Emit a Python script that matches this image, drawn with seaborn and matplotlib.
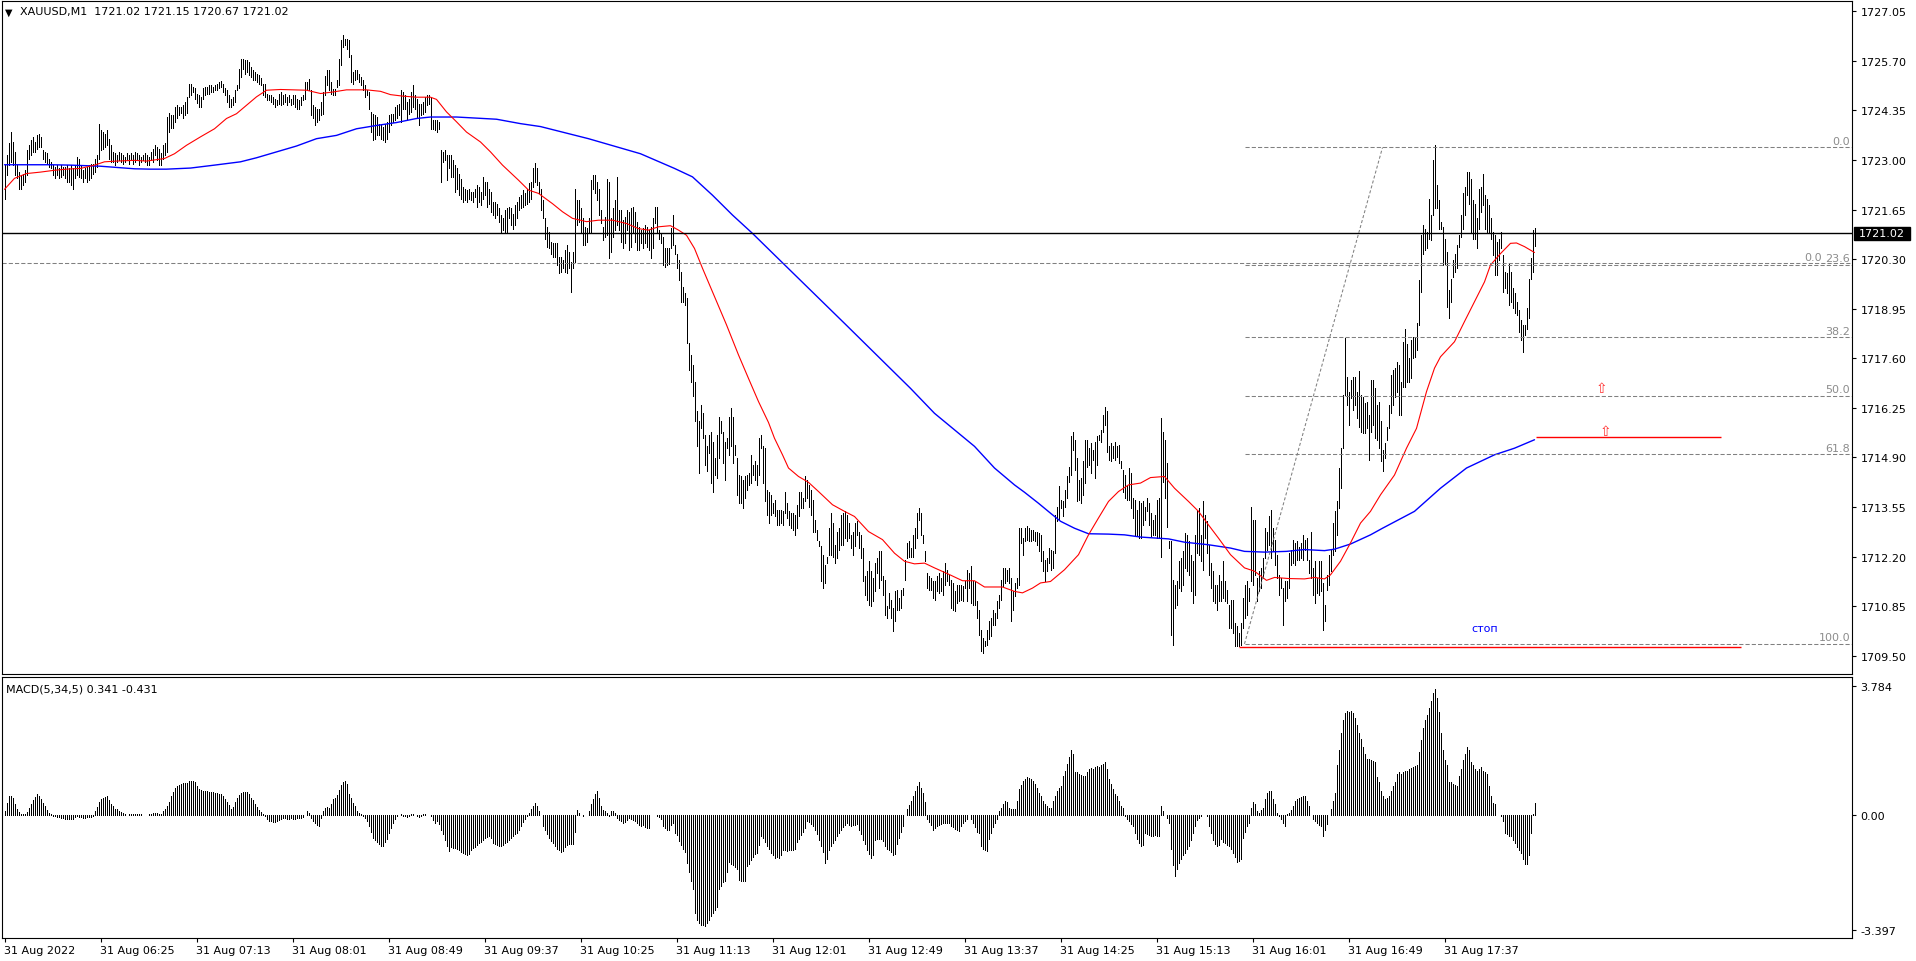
import numpy as np
import pandas as pd
import matplotlib
matplotlib.use("Agg")
import matplotlib.pyplot as plt
import seaborn as sns

# ---- data (XAUUSD M1, one bar per minute from 05:37) ----
highs = [
    1722.86, 1723.13, 1723.45, 1723.77, 1723.49, 1723.22, 1722.86, 1722.68, 1722.59, 1722.63,
    1722.72, 1723.27, 1723.40, 1723.54, 1723.63, 1723.49, 1723.67, 1723.72, 1723.63, 1723.27,
    1723.22, 1723.18, 1723.04, 1722.95, 1722.86, 1722.81, 1722.86, 1722.77, 1722.86, 1722.81,
    1722.81, 1722.86, 1722.77, 1722.86, 1722.77, 1722.86, 1723.09, 1723.04, 1722.86, 1722.72,
    1722.77, 1722.81, 1722.86, 1722.90, 1722.90, 1723.04, 1723.13, 1723.99, 1723.81, 1723.77,
    1723.72, 1723.81, 1723.58, 1723.40, 1723.22, 1723.18, 1723.13, 1723.22, 1723.18, 1723.13,
    1723.09, 1723.18, 1723.13, 1723.18, 1723.13, 1723.22, 1723.18, 1723.13, 1723.09, 1723.13,
    1723.18, 1723.13, 1723.09, 1723.22, 1723.31, 1723.40, 1723.36, 1723.31, 1723.18, 1723.40,
    1723.45, 1724.17, 1724.27, 1724.22, 1724.22, 1724.45, 1724.49, 1724.45, 1724.45, 1724.49,
    1724.58, 1724.72, 1725.08, 1725.08, 1724.99, 1724.95, 1724.81, 1724.76, 1724.72, 1724.95,
    1724.99, 1724.99, 1725.04, 1725.04, 1724.99, 1725.04, 1725.08, 1725.13, 1725.15, 1725.08,
    1724.95, 1724.90, 1724.76, 1724.67, 1724.72, 1724.90, 1725.04, 1725.49, 1725.76, 1725.76,
    1725.72, 1725.72, 1725.67, 1725.53, 1725.44, 1725.40, 1725.35, 1725.31, 1725.22, 1725.08,
    1725.08, 1724.81, 1724.76, 1724.76, 1724.71, 1724.67, 1724.62, 1724.81, 1724.85, 1724.76,
    1724.81, 1724.71, 1724.76, 1724.67, 1724.76, 1724.76, 1724.67, 1724.62, 1724.71, 1724.76,
    1725.12, 1725.12, 1725.21, 1724.90, 1724.49, 1724.44, 1724.40, 1724.40, 1724.58, 1724.85,
    1725.30, 1725.44, 1725.44, 1725.12, 1724.94, 1724.94, 1725.17, 1725.76, 1726.26, 1726.41,
    1726.30, 1726.30, 1726.26, 1725.85, 1725.40, 1725.44, 1725.44, 1725.35, 1725.26, 1725.17,
    1725.03, 1724.90, 1724.85, 1724.31, 1724.26, 1724.22, 1724.17, 1723.99, 1723.94, 1723.90,
    1723.99, 1724.04, 1724.22, 1724.26, 1724.26, 1724.44, 1724.49, 1724.53, 1724.90, 1724.85,
    1724.76, 1724.58, 1724.67, 1724.85, 1725.03, 1724.76, 1724.67, 1724.53, 1724.53, 1724.58,
    1724.71, 1724.76, 1724.76, 1724.71, 1724.08, 1724.08, 1724.08, 1724.04, 1723.26, 1723.22,
    1723.26, 1723.13, 1723.13, 1723.13, 1722.99, 1722.86, 1722.77, 1722.63, 1722.49, 1722.27,
    1722.22, 1722.18, 1722.22, 1722.13, 1722.13, 1722.22, 1722.31, 1722.27, 1722.13, 1722.54,
    1722.40, 1722.40, 1722.22, 1722.13, 1721.86, 1721.86, 1721.81, 1721.68, 1721.50, 1721.41,
    1721.63, 1721.68, 1721.72, 1721.68, 1721.54, 1721.77, 1721.86, 1722.00, 1722.04, 1722.18,
    1722.09, 1722.22, 1722.36, 1722.40, 1722.77, 1722.93, 1722.77, 1722.40, 1722.22, 1721.91,
    1721.41, 1721.18, 1721.04, 1720.77, 1720.73, 1720.73, 1720.73, 1720.36, 1720.36, 1720.27,
    1720.54, 1720.68, 1720.50, 1720.23, 1720.50, 1722.22, 1721.91, 1721.91, 1721.68, 1721.41,
    1721.18, 1721.14, 1721.41, 1722.45, 1722.58, 1722.58, 1722.40, 1722.22, 1721.63, 1721.18,
    1721.45, 1722.49, 1722.40, 1721.41, 1721.68, 1721.91, 1722.54, 1721.63, 1721.63, 1721.36,
    1721.45, 1721.63, 1721.59, 1721.68, 1721.72, 1721.59, 1721.32, 1721.18, 1721.09, 1721.14,
    1721.23, 1721.18, 1721.09, 1721.18, 1721.41, 1721.72, 1721.72, 1721.09, 1721.00, 1720.91,
    1720.59, 1720.59, 1720.59, 1721.14, 1721.50, 1720.68, 1720.45, 1720.27, 1719.96, 1719.55,
    1719.37, 1719.23, 1718.01, 1717.69, 1717.42, 1716.96, 1716.15, 1715.88, 1716.33, 1716.10,
    1715.51, 1715.20, 1715.51, 1715.60, 1715.33, 1714.88, 1715.51, 1716.01, 1715.88, 1715.60,
    1715.33, 1715.42, 1716.01, 1716.24, 1716.01, 1715.24, 1714.88, 1714.42, 1714.38, 1714.29,
    1714.38, 1714.42, 1714.47, 1714.97, 1714.70, 1714.79, 1714.70, 1715.42, 1715.51, 1715.20,
    1715.15, 1714.02, 1713.97, 1713.88, 1713.65, 1713.74, 1713.47, 1713.47, 1713.47, 1713.43,
    1713.97, 1713.65, 1713.43, 1713.38, 1713.38, 1713.34, 1713.61, 1713.97, 1713.97, 1713.79,
    1714.38, 1714.29, 1714.15, 1714.02, 1713.74, 1713.20, 1712.93, 1712.61, 1712.48, 1712.25,
    1711.98, 1712.20, 1712.97, 1713.38, 1713.11, 1712.52, 1712.88, 1712.97, 1713.34, 1713.38,
    1713.43, 1713.34, 1713.11, 1712.79, 1712.88, 1713.11, 1713.16, 1712.88, 1712.79, 1712.43,
    1711.66, 1711.80, 1712.07, 1711.80, 1711.61, 1712.02, 1712.16, 1712.34, 1712.34, 1711.66,
    1711.57, 1710.84, 1711.21, 1711.02, 1710.80, 1711.25, 1711.30, 1711.07, 1711.30, 1711.34,
    1712.11, 1712.57, 1712.61, 1712.43, 1712.79, 1712.97, 1713.38, 1713.52, 1713.38, 1712.79,
    1712.34, 1711.75, 1711.66, 1711.61, 1711.52, 1711.52, 1711.66, 1711.75, 1711.61, 1711.80,
    1712.02, 1711.84, 1711.71, 1711.57, 1711.48, 1711.25, 1711.43, 1711.43, 1711.43, 1711.39,
    1711.52, 1711.84, 1711.75, 1711.93, 1711.52, 1711.52, 1710.98, 1710.75, 1710.21, 1709.98,
    1709.89, 1710.21, 1710.43, 1710.53, 1710.75, 1710.66, 1710.98, 1711.16, 1711.57, 1711.89,
    1711.89, 1711.84, 1711.89, 1711.61, 1711.25, 1711.48, 1711.61, 1712.97, 1712.97, 1712.70,
    1712.97, 1713.02, 1712.97, 1712.93, 1712.93, 1712.88, 1712.88, 1712.84, 1712.79, 1712.34,
    1712.11, 1712.16, 1712.43, 1712.38, 1712.34, 1713.34, 1713.56, 1714.11, 1713.74, 1713.70,
    1714.02, 1714.38, 1714.65, 1715.47, 1715.60, 1715.38, 1714.88, 1714.29, 1714.33, 1714.79,
    1715.38, 1715.38, 1715.15, 1715.29, 1715.10, 1715.33, 1715.47, 1715.51, 1715.65, 1716.06,
    1716.28, 1716.15, 1715.20, 1715.29, 1715.20, 1715.33, 1715.20, 1715.24, 1714.79, 1714.56,
    1714.43, 1714.11, 1714.61, 1714.47, 1713.79, 1713.74, 1713.47, 1713.70, 1713.65, 1713.70,
    1713.56, 1713.79, 1713.65, 1713.38, 1713.20, 1713.34, 1713.74, 1713.79, 1715.97, 1715.60,
    1715.38, 1714.74, 1712.61, 1712.61, 1711.57, 1711.43, 1711.52, 1712.07, 1712.16, 1712.34,
    1712.84, 1712.79, 1712.61, 1712.25, 1712.07, 1712.79, 1713.47, 1713.52, 1712.79, 1713.70,
    1713.34, 1713.16, 1712.52, 1712.02, 1711.80, 1711.43, 1711.43, 1711.71, 1711.52, 1712.07,
    1711.52, 1711.30, 1710.89, 1711.02, 1711.02, 1710.39, 1710.30, 1710.12, 1710.39, 1711.07,
    1711.43, 1711.52, 1711.34, 1713.56, 1713.20, 1713.20, 1711.61, 1711.80, 1711.89, 1712.16,
    1712.97, 1712.88, 1713.29, 1713.47, 1712.97, 1712.66, 1712.25, 1711.71, 1711.61, 1711.34,
    1711.52, 1711.52, 1712.29, 1712.38, 1712.66, 1712.57, 1712.61, 1712.47, 1712.57, 1712.79,
    1712.66, 1712.70, 1712.11, 1712.88, 1711.89, 1712.07, 1711.61, 1712.07, 1712.07, 1711.48,
    1710.89, 1711.70, 1712.25, 1712.38, 1713.11, 1713.43, 1713.70, 1714.61, 1715.15, 1716.60,
    1718.14, 1717.10, 1716.69, 1717.01, 1717.10, 1717.10, 1716.69, 1717.24, 1716.60, 1716.55,
    1716.37, 1716.42, 1716.06, 1717.01, 1717.01, 1716.78, 1716.33, 1716.42, 1715.88, 1715.10,
    1715.29, 1715.74, 1716.33, 1717.14, 1717.28, 1717.33, 1717.51, 1717.42, 1716.96, 1718.05,
    1718.41, 1718.00, 1717.60, 1718.10, 1718.19, 1718.19, 1718.55, 1719.73, 1720.95, 1721.22,
    1721.13, 1721.04, 1721.95, 1721.50, 1722.99, 1723.40, 1722.31, 1721.90, 1721.32, 1721.18,
    1720.86, 1720.50, 1719.45, 1719.77, 1720.27, 1720.45, 1720.68, 1720.95, 1721.50, 1722.09,
    1722.27, 1722.68, 1722.68, 1722.49, 1721.90, 1721.81, 1721.41, 1722.22, 1722.27, 1722.63,
    1722.04, 1721.95, 1721.77, 1721.41, 1721.04, 1720.95, 1720.77, 1720.86, 1721.04, 1720.41,
    1719.95, 1719.91, 1720.18, 1719.95, 1719.50, 1719.37, 1719.14, 1718.91, 1718.64, 1718.50,
    1718.50, 1718.96, 1719.77, 1720.32, 1721.09, 1721.15,
]

lows = [
    1721.95, 1722.59, 1722.86, 1722.95, 1722.86, 1722.59, 1722.50, 1722.22, 1722.22, 1722.32,
    1722.41, 1722.59, 1723.04, 1723.13, 1723.22, 1723.22, 1723.31, 1723.36, 1723.36, 1723.04,
    1722.95, 1722.90, 1722.81, 1722.77, 1722.59, 1722.50, 1722.59, 1722.50, 1722.54, 1722.59,
    1722.50, 1722.41, 1722.41, 1722.32, 1722.22, 1722.50, 1722.59, 1722.54, 1722.50, 1722.41,
    1722.50, 1722.41, 1722.45, 1722.50, 1722.63, 1722.68, 1722.81, 1723.04, 1723.27, 1723.31,
    1723.36, 1723.40, 1723.04, 1722.95, 1722.95, 1722.86, 1722.95, 1722.99, 1722.95, 1722.90,
    1722.95, 1722.99, 1722.90, 1722.99, 1722.90, 1722.95, 1722.99, 1722.86, 1722.95, 1722.99,
    1722.95, 1722.86, 1722.86, 1722.99, 1722.95, 1723.13, 1722.99, 1722.86, 1722.86, 1723.04,
    1723.13, 1723.22, 1723.77, 1723.86, 1723.86, 1724.04, 1724.13, 1724.22, 1724.27, 1724.13,
    1724.22, 1724.27, 1724.72, 1724.76, 1724.85, 1724.67, 1724.54, 1724.45, 1724.45, 1724.67,
    1724.76, 1724.81, 1724.81, 1724.85, 1724.85, 1724.90, 1724.90, 1724.95, 1724.99, 1724.85,
    1724.76, 1724.58, 1724.45, 1724.45, 1724.49, 1724.58, 1724.90, 1724.95, 1725.26, 1725.49,
    1725.35, 1725.40, 1725.31, 1725.26, 1725.17, 1725.17, 1725.13, 1725.08, 1725.04, 1724.76,
    1724.71, 1724.62, 1724.62, 1724.58, 1724.53, 1724.44, 1724.49, 1724.53, 1724.49, 1724.53,
    1724.58, 1724.49, 1724.58, 1724.49, 1724.53, 1724.44, 1724.40, 1724.40, 1724.49, 1724.62,
    1724.67, 1724.90, 1724.90, 1724.22, 1724.13, 1723.94, 1724.04, 1724.08, 1724.22, 1724.26,
    1724.76, 1725.03, 1724.90, 1724.81, 1724.76, 1724.76, 1724.99, 1725.03, 1725.58, 1726.08,
    1726.12, 1726.03, 1725.80, 1725.12, 1725.08, 1725.17, 1725.21, 1725.12, 1725.03, 1724.90,
    1724.71, 1724.76, 1724.40, 1723.76, 1723.54, 1723.58, 1723.67, 1723.67, 1723.58, 1723.54,
    1723.49, 1723.58, 1723.76, 1723.94, 1724.04, 1724.08, 1724.13, 1724.22, 1724.04, 1724.40,
    1724.40, 1724.08, 1724.26, 1724.31, 1724.44, 1724.40, 1724.13, 1723.94, 1724.22, 1724.26,
    1724.31, 1724.49, 1724.53, 1723.85, 1723.85, 1723.81, 1723.76, 1723.85, 1722.40, 1722.95,
    1722.99, 1722.45, 1722.77, 1722.54, 1722.54, 1722.13, 1722.22, 1722.04, 1721.95, 1721.86,
    1721.90, 1721.86, 1721.95, 1721.90, 1721.86, 1721.99, 1721.72, 1721.86, 1721.77, 1721.95,
    1722.04, 1721.72, 1721.81, 1721.59, 1721.50, 1721.41, 1721.50, 1721.32, 1721.02, 1721.09,
    1721.04, 1721.00, 1721.41, 1721.23, 1721.13, 1721.23, 1721.41, 1721.63, 1721.68, 1721.72,
    1721.77, 1721.81, 1721.86, 1721.95, 1722.27, 1722.40, 1722.31, 1722.09, 1721.63, 1721.41,
    1720.86, 1720.64, 1720.59, 1720.45, 1720.36, 1720.36, 1720.14, 1719.91, 1719.96, 1720.05,
    1719.96, 1719.91, 1720.05, 1719.41, 1720.05, 1720.23, 1721.23, 1721.32, 1721.04, 1720.68,
    1720.68, 1720.77, 1721.04, 1721.04, 1722.22, 1722.09, 1721.91, 1721.50, 1721.27, 1720.82,
    1720.91, 1720.95, 1720.32, 1720.50, 1720.91, 1721.09, 1721.23, 1721.09, 1720.77, 1720.59,
    1720.73, 1721.09, 1720.54, 1720.64, 1721.00, 1720.77, 1720.54, 1720.54, 1720.73, 1720.59,
    1720.73, 1720.64, 1720.54, 1720.32, 1720.59, 1721.27, 1721.04, 1720.86, 1720.73, 1720.14,
    1720.09, 1720.14, 1720.18, 1720.59, 1720.68, 1720.45, 1720.05, 1719.73, 1719.14, 1719.14,
    1719.05, 1718.01, 1717.28, 1716.96, 1716.56, 1715.88, 1715.20, 1714.47, 1715.69, 1715.42,
    1714.70, 1714.52, 1715.01, 1714.20, 1713.97, 1714.42, 1714.33, 1714.88, 1715.56, 1714.74,
    1714.29, 1715.15, 1714.97, 1715.20, 1714.74, 1714.97, 1713.88, 1713.65, 1713.65, 1713.52,
    1713.79, 1714.02, 1714.15, 1714.20, 1714.42, 1714.29, 1714.15, 1714.42, 1715.15, 1714.20,
    1713.70, 1713.34, 1713.11, 1713.34, 1713.38, 1713.29, 1713.06, 1713.06, 1713.11, 1713.06,
    1713.38, 1713.25, 1713.06, 1712.97, 1712.93, 1712.79, 1712.97, 1713.29, 1713.52, 1713.52,
    1713.70, 1713.79, 1713.56, 1713.34, 1712.88, 1712.88, 1712.66, 1712.48, 1711.52, 1711.34,
    1711.48, 1712.02, 1712.25, 1712.25, 1712.20, 1712.02, 1712.16, 1712.38, 1712.52, 1712.52,
    1712.70, 1712.61, 1712.70, 1712.43, 1712.25, 1712.48, 1712.79, 1712.43, 1712.16, 1711.52,
    1711.16, 1711.02, 1710.89, 1710.84, 1710.98, 1711.25, 1711.75, 1711.34, 1711.57, 1711.16,
    1710.62, 1710.53, 1710.80, 1710.53, 1710.16, 1710.43, 1710.75, 1710.75, 1710.80, 1711.16,
    1711.57, 1712.16, 1712.20, 1712.20, 1712.20, 1712.43, 1712.70, 1713.20, 1712.79, 1712.57,
    1712.07, 1711.34, 1711.30, 1711.30, 1711.07, 1711.02, 1711.25, 1711.21, 1711.25, 1711.16,
    1711.43, 1711.52, 1711.43, 1710.80, 1710.75, 1710.71, 1710.93, 1710.98, 1711.02, 1710.98,
    1711.34, 1710.98, 1711.34, 1710.93, 1710.89, 1710.89, 1710.53, 1710.07, 1709.62, 1709.57,
    1709.75, 1709.80, 1709.94, 1710.03, 1710.34, 1710.34, 1710.53, 1710.80, 1711.02, 1711.39,
    1711.48, 1711.52, 1711.48, 1710.43, 1710.75, 1711.12, 1711.34, 1711.43, 1712.57, 1712.25,
    1712.61, 1712.66, 1712.61, 1712.61, 1712.66, 1712.61, 1712.52, 1712.34, 1712.07, 1711.80,
    1711.52, 1711.80, 1712.02, 1711.84, 1711.89, 1712.30, 1713.16, 1713.20, 1713.52, 1713.29,
    1713.56, 1713.79, 1714.24, 1714.43, 1715.10, 1714.56, 1713.70, 1713.74, 1713.65, 1713.88,
    1714.20, 1714.65, 1714.70, 1714.47, 1714.83, 1714.33, 1714.70, 1715.38, 1715.33, 1715.60,
    1715.78, 1715.06, 1714.83, 1714.79, 1714.88, 1714.83, 1714.92, 1714.74, 1714.61, 1713.97,
    1713.79, 1713.74, 1713.74, 1713.52, 1713.25, 1712.79, 1712.79, 1712.70, 1712.70, 1713.06,
    1713.20, 1713.43, 1713.06, 1712.75, 1712.79, 1712.79, 1712.70, 1712.70, 1712.20, 1714.24,
    1713.79, 1713.00, 1712.43, 1710.07, 1709.80, 1710.80, 1710.89, 1711.34, 1711.25, 1711.43,
    1711.89, 1711.80, 1711.71, 1711.25, 1710.93, 1711.16, 1712.29, 1712.25, 1712.07, 1711.84,
    1712.70, 1712.29, 1711.71, 1711.34, 1710.98, 1710.93, 1710.75, 1710.98, 1710.98, 1711.07,
    1710.98, 1710.93, 1710.25, 1710.25, 1710.12, 1709.75, 1709.75, 1709.75, 1709.80, 1710.25,
    1710.53, 1710.62, 1710.98, 1711.52, 1711.43, 1711.71, 1710.98, 1711.25, 1711.34, 1711.61,
    1712.16, 1712.38, 1712.52, 1712.16, 1712.34, 1711.98, 1711.61, 1711.16, 1711.34, 1710.34,
    1710.98, 1711.07, 1711.34, 1711.98, 1712.02, 1711.98, 1712.11, 1712.11, 1712.16, 1712.11,
    1712.38, 1712.11, 1711.75, 1711.61, 1711.16, 1710.93, 1711.21, 1711.16, 1711.25, 1710.21,
    1710.43, 1711.30, 1711.43, 1711.80, 1712.25, 1712.34, 1712.79, 1713.52, 1714.06, 1715.15,
    1716.60, 1716.33, 1715.78, 1716.51, 1716.19, 1716.33, 1715.97, 1715.74, 1715.60, 1715.56,
    1715.56, 1715.69, 1714.83, 1715.60, 1715.78, 1715.42, 1715.38, 1715.15, 1714.79, 1714.52,
    1714.88, 1715.38, 1715.69, 1716.10, 1716.33, 1716.55, 1716.69, 1716.06, 1716.06, 1716.83,
    1716.83, 1716.96, 1716.96, 1717.05, 1717.60, 1717.64, 1717.82, 1718.50, 1719.41, 1720.45,
    1720.54, 1720.59, 1720.86, 1720.82, 1721.50, 1721.68, 1721.68, 1721.13, 1721.13, 1720.14,
    1720.18, 1719.00, 1718.69, 1719.14, 1719.82, 1719.95, 1720.05, 1720.64, 1720.91, 1721.13,
    1721.50, 1722.04, 1721.81, 1721.04, 1720.86, 1720.86, 1720.59, 1721.13, 1721.59, 1721.77,
    1721.13, 1721.04, 1721.04, 1720.86, 1720.41, 1719.86, 1719.86, 1720.27, 1720.59, 1719.41,
    1719.50, 1719.37, 1719.05, 1719.14, 1718.96, 1718.82, 1718.78, 1718.32, 1718.10, 1717.78,
    1718.23, 1718.41, 1718.69, 1719.77, 1719.95, 1720.67,
]

macd_hist = [
    0.10, 0.35, 0.55, 0.56, 0.50, 0.30, 0.18, 0.08, 0.03, 0.02,
    0.02, 0.08, 0.20, 0.32, 0.42, 0.52, 0.60, 0.55, 0.45, 0.35,
    0.25, 0.14, 0.06, 0.02, -0.03, -0.05, -0.06, -0.08, -0.10, -0.11,
    -0.12, -0.13, -0.14, -0.14, -0.12, -0.08, -0.05, -0.06, -0.08, -0.10,
    -0.10, -0.08, -0.06, -0.07, -0.05, 0.10, 0.22, 0.38, 0.45, 0.50,
    0.52, 0.55, 0.42, 0.30, 0.26, 0.18, 0.16, 0.10, 0.07, 0.04,
    0.01, 0.00, 0.01, 0.02, 0.03, 0.02, 0.03, 0.02, 0.01, 0.00,
    0.00, 0.00, 0.01, 0.03, 0.05, 0.04, 0.05, 0.03, 0.02, 0.10,
    0.16, 0.26, 0.36, 0.55, 0.68, 0.80, 0.85, 0.88, 0.90, 0.92,
    0.94, 0.93, 0.98, 1.00, 1.00, 0.96, 0.85, 0.75, 0.72, 0.70,
    0.70, 0.69, 0.68, 0.68, 0.66, 0.65, 0.64, 0.62, 0.60, 0.55,
    0.46, 0.38, 0.28, 0.16, 0.22, 0.36, 0.48, 0.58, 0.65, 0.67,
    0.66, 0.68, 0.62, 0.50, 0.42, 0.30, 0.22, 0.14, 0.08, 0.02,
    -0.05, -0.12, -0.18, -0.20, -0.22, -0.21, -0.19, -0.15, -0.12, -0.11,
    -0.11, -0.12, -0.12, -0.11, -0.12, -0.12, -0.11, -0.10, -0.10, -0.08,
    -0.02, 0.10, 0.05, -0.10, -0.18, -0.24, -0.30, -0.33, -0.10, 0.12,
    0.20, 0.22, 0.20, 0.30, 0.46, 0.48, 0.58, 0.72, 0.88, 0.95,
    1.00, 0.90, 0.62, 0.50, 0.35, 0.25, 0.12, 0.06, 0.02, -0.05,
    -0.10, -0.20, -0.34, -0.50, -0.68, -0.75, -0.82, -0.88, -0.92, -0.93,
    -0.80, -0.73, -0.55, -0.40, -0.25, -0.14, -0.05, 0.00, 0.02, -0.03,
    -0.05, -0.08, -0.04, 0.02, 0.03, -0.02, -0.05, -0.08, -0.04, 0.02,
    0.03, 0.00, -0.02, -0.05, -0.15, -0.25, -0.20, -0.28, -0.45, -0.58,
    -0.75, -0.92, -1.08, -0.95, -0.98, -0.98, -1.00, -1.05, -1.10, -1.12,
    -1.15, -1.18, -1.15, -1.05, -0.98, -0.95, -0.90, -0.85, -0.80, -0.75,
    -0.70, -0.66, -0.63, -0.70, -0.83, -0.86, -0.90, -0.92, -0.93, -0.90,
    -0.83, -0.80, -0.75, -0.68, -0.62, -0.58, -0.53, -0.45, -0.33, -0.22,
    -0.12, -0.04, 0.05, 0.16, 0.26, 0.34, 0.25, 0.10, 0.00, -0.34,
    -0.45, -0.58, -0.70, -0.78, -0.83, -0.93, -1.00, -1.05, -1.10, -1.06,
    -0.95, -0.90, -0.88, -0.88, -0.88, -0.50, 0.14, 0.05, -0.02, -0.04,
    -0.02, 0.00, 0.10, 0.30, 0.45, 0.60, 0.69, 0.50, 0.26, 0.15,
    0.10, 0.06, -0.05, 0.10, 0.12, 0.05, -0.10, -0.15, -0.18, -0.25,
    -0.22, -0.15, -0.10, -0.12, -0.15, -0.20, -0.25, -0.30, -0.35, -0.32,
    -0.36, -0.39, -0.39, 0.00, 0.00, -0.02, -0.05, -0.08, -0.14, -0.34,
    -0.40, -0.44, -0.44, -0.30, -0.24, -0.53, -0.60, -0.78, -0.90, -1.00,
    -1.10, -1.42, -1.70, -1.95, -2.20, -2.90, -3.10, -3.20, -3.25, -3.26,
    -3.28, -3.20, -3.10, -3.00, -2.90, -2.80, -2.73, -2.20, -2.10, -2.00,
    -1.97, -1.70, -1.40, -1.45, -1.50, -1.55, -1.60, -1.92, -1.95, -1.97,
    -1.95, -1.53, -1.45, -1.35, -1.25, -1.15, -1.13, -0.90, -0.63, -0.70,
    -0.80, -0.93, -1.00, -1.13, -1.20, -1.28, -1.25, -1.28, -1.20, -1.05,
    -1.05, -1.06, -1.05, -1.04, -1.05, -1.02, -0.80, -0.73, -0.60, -0.50,
    -0.39, -0.19, -0.22, -0.28, -0.35, -0.45, -0.58, -0.75, -0.93, -1.10,
    -1.43, -1.30, -1.05, -0.93, -0.85, -0.75, -0.63, -0.55, -0.44, -0.38,
    -0.30, -0.24, -0.30, -0.34, -0.32, -0.30, -0.29, -0.45, -0.58, -0.75,
    -0.88, -1.03, -1.15, -1.28, -1.20, -0.75, -0.73, -0.72, -0.73, -0.78,
    -0.93, -1.00, -1.05, -1.10, -1.18, -1.15, -0.88, -0.70, -0.50, -0.34,
    0.00, 0.16, 0.28, 0.40, 0.55, 0.70, 0.85, 0.95, 0.80, 0.65,
    0.36, -0.14, -0.22, -0.30, -0.44, -0.40, -0.34, -0.30, -0.28, -0.26,
    -0.25, -0.24, -0.26, -0.34, -0.38, -0.42, -0.46, -0.49, -0.34, -0.25,
    -0.18, -0.14, 0.00, -0.14, -0.25, -0.38, -0.50, -0.54, -0.93, -1.00,
    -1.05, -1.08, -0.73, -0.55, -0.38, -0.25, -0.14, 0.11, 0.20, 0.30,
    0.41, 0.36, 0.21, 0.18, 0.16, 0.16, 0.40, 0.75, 0.88, 0.98,
    1.05, 1.10, 1.08, 1.05, 1.00, 0.90, 0.80, 0.65, 0.55, 0.40,
    0.30, 0.25, 0.21, 0.21, 0.40, 0.55, 0.70, 0.80, 0.85, 1.15,
    1.30, 1.50, 1.70, 1.91, 1.80, 1.25, 1.25, 1.20, 1.18, 1.15,
    1.15, 1.25, 1.35, 1.38, 1.35, 1.40, 1.42, 1.40, 1.45, 1.48,
    1.55, 1.35, 1.05, 0.90, 0.75, 0.60, 0.55, 0.40, 0.26, 0.20,
    -0.05, -0.14, -0.20, -0.28, -0.34, -0.55, -0.73, -0.85, -0.93, -0.90,
    -0.54, -0.56, -0.60, -0.62, -0.64, -0.60, -0.64, -0.62, 0.26, 0.10,
    0.00, -0.10, -0.24, -1.00, -1.50, -1.80, -1.60, -1.43, -1.30, -1.20,
    -1.13, -1.00, -0.93, -0.75, -0.55, -0.34, -0.15, -0.09, -0.05, -0.02,
    0.00, -0.04, -0.34, -0.55, -0.75, -0.88, -0.93, -0.90, -0.73, -0.80,
    -0.85, -0.90, -0.93, -1.00, -1.13, -1.25, -1.41, -1.38, -1.30, -0.68,
    -0.50, -0.35, -0.24, 0.20, 0.36, 0.30, 0.10, 0.06, 0.15, 0.20,
    0.45, 0.65, 0.70, 0.70, 0.46, 0.30, 0.06, -0.05, -0.14, -0.25,
    -0.34, 0.02, 0.06, 0.15, 0.26, 0.40, 0.46, 0.50, 0.52, 0.55,
    0.55, 0.40, 0.26, 0.00, -0.14, -0.20, -0.25, -0.30, -0.34, -0.63,
    -0.45, -0.29, 0.00, 0.16, 0.40, 0.65, 1.45, 1.90, 2.40, 2.80,
    3.00, 3.05, 3.02, 3.05, 3.00, 2.85, 2.65, 2.40, 2.24, 2.00,
    1.80, 1.65, 1.65, 1.60, 1.58, 1.55, 1.10, 0.95, 0.70, 0.55,
    0.46, 0.48, 0.55, 0.70, 0.85, 0.95, 1.20, 1.25, 1.20, 1.25,
    1.30, 1.28, 1.35, 1.38, 1.40, 1.42, 1.45, 1.85, 2.20, 2.55,
    2.80, 2.93, 3.15, 3.35, 3.60, 3.70, 3.45, 3.03, 2.40, 1.90,
    1.60, 1.45, 0.95, 0.95, 0.90, 0.88, 0.85, 1.15, 1.35, 1.60,
    1.80, 2.00, 1.90, 1.55, 1.45, 1.35, 1.30, 1.35, 1.40, 1.30,
    1.25, 1.20, 0.85, 0.55, 0.35, 0.30, 0.00, -0.02, -0.04, -0.20,
    -0.54, -0.58, -0.62, -0.64, -0.75, -0.83, -0.95, -1.05, -1.13, -1.30,
    -1.47, -1.47, -1.20, -0.54, 0.02, 0.341,
]

# moving averages read at sample bars
red_ma_bars = [0, 5, 11, 18, 25, 31, 38, 45, 50, 56, 65, 71, 80, 85, 91, 98, 105, 111, 116, 121,
               126, 131, 138, 144, 151, 158, 164, 171, 181, 188, 193, 199, 206, 213, 216, 221, 226,
               231, 238, 243, 249, 257, 262, 267, 274, 279, 284, 291, 297, 304, 311, 317, 322, 327,
               333, 337, 341, 345, 349, 354, 361, 367, 372, 377, 382, 385, 389, 392, 397, 402, 407,
               414, 420, 425, 432, 439, 445, 450, 455, 460, 465, 472, 479, 485, 490, 499, 505, 509,
               514, 518, 523, 530, 537, 542, 547, 552, 557, 562, 568, 573, 580, 585, 592, 597, 602,
               607, 613, 620, 625, 631, 635, 642, 650, 655, 660, 663, 668, 673, 678, 683, 688, 695,
               701, 706, 711, 715, 718, 725, 730, 735, 740, 743, 748, 753, 756, 760, 765]
red_ma_vals = [1722.20, 1722.50, 1722.63, 1722.67, 1722.72, 1722.75, 1722.77, 1722.86, 1722.95,
               1722.97, 1722.99, 1722.97, 1723.04, 1723.17, 1723.40, 1723.63, 1723.85, 1724.13,
               1724.26, 1724.49, 1724.72, 1724.90, 1724.92, 1724.91, 1724.90, 1724.81, 1724.85,
               1724.91, 1724.91, 1724.87, 1724.78, 1724.74, 1724.71, 1724.71, 1724.65, 1724.31,
               1724.04, 1723.76, 1723.49, 1723.22, 1722.86, 1722.45, 1722.18, 1722.09, 1721.81,
               1721.59, 1721.41, 1721.32, 1721.36, 1721.36, 1721.27, 1721.13, 1721.09, 1721.18,
               1721.21, 1721.09, 1720.95, 1720.59, 1720.05, 1719.41, 1718.51, 1717.69, 1717.05,
               1716.42, 1715.85, 1715.42, 1714.97, 1714.61, 1714.38, 1714.22, 1713.97, 1713.61,
               1713.43, 1713.29, 1712.88, 1712.66, 1712.29, 1712.07, 1712.00, 1712.02, 1711.89,
               1711.72, 1711.54, 1711.54, 1711.37, 1711.37, 1711.25, 1711.21, 1711.34, 1711.48,
               1711.52, 1711.84, 1712.25, 1712.79, 1713.25, 1713.70, 1713.97, 1714.15, 1714.20,
               1714.35, 1714.38, 1714.06, 1713.70, 1713.43, 1713.06, 1712.70, 1712.25, 1711.89,
               1711.80, 1711.55, 1711.63, 1711.60, 1711.59, 1711.63, 1711.59, 1711.70, 1712.07,
               1712.57, 1713.11, 1713.43, 1713.88, 1714.42, 1715.15, 1715.69, 1716.69, 1717.33,
               1717.64, 1718.05, 1718.60, 1719.14, 1719.68, 1720.14, 1720.45, 1720.73, 1720.74,
               1720.64, 1720.48]

blue_ma_bars = [0, 23, 33, 48, 65, 73, 81, 93, 105, 118, 126, 136, 146, 156, 166, 176, 186, 196,
                206, 213, 226, 236, 246, 258, 268, 292, 318, 335, 344, 354, 364, 374, 386, 420,
                453, 465, 475, 485, 495, 505, 510, 517, 523, 528, 535, 542, 552, 560, 568, 582,
                590, 602, 613, 620, 630, 641, 650, 660, 665, 673, 683, 689, 705, 718, 731, 745,
                755, 765]
blue_ma_vals = [1722.87, 1722.87, 1722.86, 1722.83, 1722.76, 1722.75, 1722.75, 1722.78, 1722.86,
                1722.95, 1723.06, 1723.22, 1723.38, 1723.58, 1723.67, 1723.85, 1723.94, 1724.02,
                1724.13, 1724.17, 1724.17, 1724.14, 1724.11, 1723.99, 1723.91, 1723.58, 1723.17,
                1722.77, 1722.54, 1722.04, 1721.50, 1721.00, 1720.36, 1718.55, 1716.78, 1716.10,
                1715.65, 1715.20, 1714.61, 1714.15, 1713.95, 1713.65, 1713.38, 1713.16, 1712.97,
                1712.82, 1712.81, 1712.79, 1712.73, 1712.68, 1712.59, 1712.52, 1712.43, 1712.34,
                1712.32, 1712.34, 1712.39, 1712.36, 1712.40, 1712.54, 1712.79, 1712.97, 1713.43,
                1714.06, 1714.61, 1714.97, 1715.15, 1715.38]

time_labels = ["31 Aug 2022", "31 Aug 06:25", "31 Aug 07:13", "31 Aug 08:01", "31 Aug 08:49",
               "31 Aug 09:37", "31 Aug 10:25", "31 Aug 11:13", "31 Aug 12:01", "31 Aug 12:49",
               "31 Aug 13:37", "31 Aug 14:25", "31 Aug 15:13", "31 Aug 16:01", "31 Aug 16:49",
               "31 Aug 17:37"]
tick_bars = [0, 48, 96, 144, 192, 240, 288, 336, 384, 432, 480, 528, 576, 624, 672, 720]

price_ticks = [1727.05, 1725.70, 1724.35, 1723.00, 1721.65, 1720.30, 1718.95,
               1717.60, 1716.25, 1714.90, 1713.55, 1712.20, 1710.85, 1709.50]
macd_ticks = [3.784, 0.0, -3.397]
macd_tick_labels = ["3.784", "0.00", "-3.397"]

bid_price = 1721.02
fib_high = 1723.34
fib_low = 1709.82
fib_levels = [0.0, 23.6, 38.2, 50.0, 61.8, 100.0]
fib_start_bar, fib_end_bar = 620, 689
extra_level = 1720.19          # second dashed line across the whole chart
stop_level = 1709.74
stop_bars = (617, 868)
target_level = 1715.45
target_bars = (765.5, 858)
arrow_bars = [798.5, 800.5]
arrow_prices = [1716.80, 1715.62]
stop_text_bar, stop_text_price = 740, 1710.25

# ---- layout (pixel based) ----
W, H = 1916, 962
bars = pd.DataFrame({"bar": np.arange(len(highs)), "high": highs, "low": lows, "macd": macd_hist})

sns.set_theme(style="white")
plt.rcParams["font.family"] = ["DejaVu Sans"]
plt.rcParams["lines.scale_dashes"] = False

fig = plt.figure(figsize=(W / 100, H / 100), dpi=100)
fig.patch.set_facecolor("white")


def fig_rect(x0, y0, x1, y1):
    return [x0 / W, 1 - y1 / H, (x1 - x0) / W, (y1 - y0) / H]


ax = fig.add_axes(fig_rect(2, 2, 1852, 675))
ax2 = fig.add_axes(fig_rect(2, 678, 1852, 939))
xlim = (-1.25, 923.75)

for a in (ax, ax2):
    a.set_facecolor("white")
    for s in a.spines.values():
        s.set_color("black")
        s.set_linewidth(0.8)
    a.set_xlim(*xlim)

# price bars
ax.vlines(bars["bar"], bars["low"], bars["high"], colors="black", linewidth=0.72, antialiased=False)

# moving averages
sns.lineplot(x=blue_ma_bars, y=blue_ma_vals, ax=ax, color="#0000ff", linewidth=1.0,
             estimator=None, sort=False)
sns.lineplot(x=red_ma_bars, y=red_ma_vals, ax=ax, color="#ff0000", linewidth=0.8,
             estimator=None, sort=False)

# bid line
ax.axhline(bid_price, color="black", linewidth=1.0)

# fibonacci object
dash = (0, (3.0, 1.5))
gray = "#808080"
ax.axhline(extra_level, color=gray, linewidth=0.75, linestyle=dash)
for lv in fib_levels:
    price = fib_high - (fib_high - fib_low) * lv / 100.0
    ax.hlines(price, fib_start_bar, xlim[1], colors=gray, linewidth=0.75, linestyles=dash)
    ax.text(922.8, price + 0.04, f"{lv:.1f}", ha="right", va="bottom", fontsize=8, color="#8c8c8c")
# the whole-width line carries its own "0.0" label just left of the 23.6 label
ax.text(908.5, extra_level + 0.02, "0.0", ha="right", va="bottom", fontsize=8, color="#8c8c8c")
ax.plot([fib_start_bar, fib_end_bar], [fib_low, fib_high], color=gray, linewidth=0.75,
        linestyle=(0, (2.2, 1.5)))

# stop / target lines and arrows
ax.hlines(stop_level, stop_bars[0], stop_bars[1], colors="#ff0000", linewidth=1.0)
ax.hlines(target_level, target_bars[0], target_bars[1], colors="#ff0000", linewidth=1.0)
for bx, py in zip(arrow_bars, arrow_prices):
    ax.text(bx, py, "\u21e7", ha="center", va="center", fontsize=10, color="#ff3030")
ax.text(stop_text_bar, stop_text_price, "стоп", ha="center", va="center", fontsize=8, color="#0000ff")

ax.set_ylim(1709.00, 1727.33)
ax.set_xticks([])
ax.yaxis.tick_right()
ax.set_yticks(price_ticks)
ax.set_yticklabels([f"{p:.2f}" for p in price_ticks])
ax.tick_params(axis="y", direction="out", length=3, width=0.8, pad=3, labelsize=8,
               colors="black", right=True, left=False)
ax.set_xlabel("")
ax.set_ylabel("")

# current price tag
fig.add_artist(plt.Rectangle((1854 / W, 1 - 241 / H), 56 / W, 13 / H, color="black",
                             transform=fig.transFigure))
fig.text(1882 / W, 1 - 234.5 / H, f"{bid_price:.2f}", color="white", fontsize=8,
         ha="center", va="center")

# header texts
fig.text(5 / W, 1 - 12.5 / H, "\u25bc", fontsize=7, ha="left", va="center", color="black")
fig.text(20 / W, 1 - 12.5 / H, "XAUUSD,M1  1721.02 1721.15 1720.67 1721.02", fontsize=8,
         ha="left", va="center", color="black")
fig.text(6 / W, 1 - 690 / H, "MACD(5,34,5) 0.341 -0.431", fontsize=8, ha="left",
         va="center", color="black")

# MACD histogram
ax2.vlines(bars["bar"], 0, bars["macd"], colors="black", linewidth=0.72, antialiased=False)
ax2.set_ylim(-3.64, 4.06)
ax2.yaxis.tick_right()
ax2.set_yticks(macd_ticks)
ax2.set_yticklabels(macd_tick_labels)
ax2.set_xticks(tick_bars)
ax2.set_xticklabels(time_labels, ha="left")
ax2.tick_params(axis="y", direction="out", length=3, width=0.8, pad=3, labelsize=8,
                colors="black", right=True, left=False)
ax2.tick_params(axis="x", direction="out", length=3, width=0.8, pad=2, labelsize=8,
                colors="black", bottom=True)
ax2.set_xlabel("")
ax2.set_ylabel("")

fig.savefig("out.png", dpi=100, facecolor="white")
